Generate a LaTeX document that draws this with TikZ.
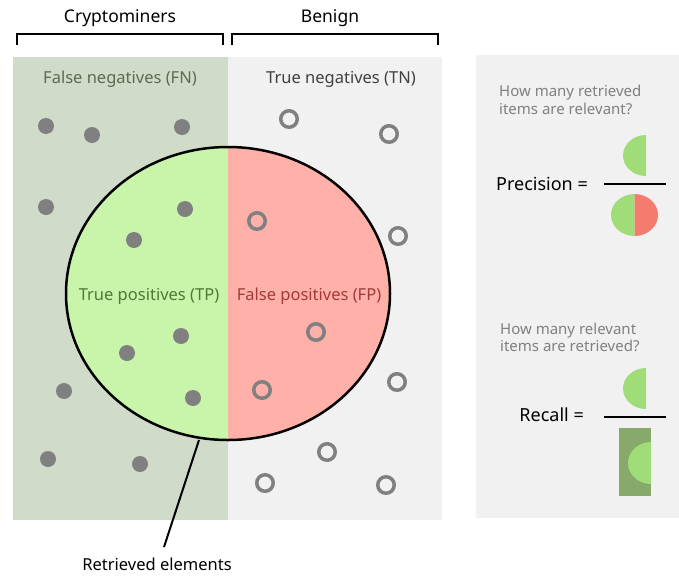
\documentclass[tikz,border=0pt]{standalone}
\usepackage{fontspec}
\setmainfont{Noto Sans}
\usepackage{xcolor}
\usetikzlibrary{positioning}

\definecolor{cryptobg}{HTML}{D1DBCA}
\definecolor{benignbg}{HTML}{F1F1F1}
\definecolor{tpfill}{HTML}{C8F5AA}
\definecolor{fpfill}{HTML}{FFB0A8}
\definecolor{dotgray}{HTML}{808080}
\definecolor{fntext}{HTML}{5B6B51}
\definecolor{tntext}{HTML}{404040}
\definecolor{tptext}{HTML}{4B7A35}
\definecolor{fptext}{HTML}{A33A3A}
\definecolor{halfgreen}{HTML}{A0DC78}
\definecolor{halfred}{HTML}{F47B6E}
\definecolor{recallbox}{HTML}{87A96B}

\begin{document}
\begin{tikzpicture}[
    x=1pt, y=-1pt,
    title/.style={font=\fontsize{17.5}{21}\selectfont, inner sep=0pt},
    region/.style={font=\fontsize{16.5}{20}\selectfont, inner sep=0pt},
    question/.style={font=\fontsize{15}{17.5}\selectfont, text=dotgray, align=left, anchor=west, inner sep=0pt},
    formula/.style={font=\fontsize{18}{21}\selectfont, anchor=east, inner sep=0pt},
    miner/.style={circle, fill=dotgray, inner sep=0pt, minimum size=16},
    benign/.style={circle, draw=dotgray, line width=3.5pt, inner sep=0pt, minimum size=16.5},
    bracket/.style={line width=2pt},
    fracline/.style={line width=1.5pt}
]

    % fixed page size
    \useasboundingbox (0,0) rectangle (679,576);

    % radii of the retrieved ellipse
    \def\rx{162}
    \def\ry{146.5}

    % 1. background panels
    \fill[cryptobg] (13,57) rectangle (228,520);
    \fill[benignbg] (228,57) rectangle (442,520);
    \fill[benignbg] (476,55) rectangle (679,518);

    % 2. column titles and brackets
    \node[title] (crypto) at (120,18) {Cryptominers};
    \node[title] (benignt) at (330,18) {Benign};
    \draw[bracket] (17,45) |- (223,34) -- (223,45);
    \draw[bracket] (232,45) |- (438,34) -- (438,45);

    \node[region, text=fntext] (fn) at (120,79) {False negatives (FN)};
    \node[region, text=tntext] (tn) at (341,79) {True negatives (TN)};

    % 3. retrieved elements (ellipse split in two halves)
    \coordinate (E) at (228,293.5);
    \begin{scope}
        \clip (E) ellipse [x radius=\rx, y radius=\ry];
        \fill[tpfill] (0,0) rectangle (228,576);
        \fill[fpfill] (228,0) rectangle (679,576);
    \end{scope}
    \draw[line width=2.5pt] (E) ellipse [x radius=\rx, y radius=\ry];

    \node[region, text=tptext] (tp) at (149,296) {True positives (TP)};
    \node[region, text=fptext] (fp) at (309,296) {False positives (FP)};

    % 4. items
    \foreach \px/\py [count=\i] in {46/126, 92/135, 182/127, 46/207, 185/209, 134/240,
        181/336, 127/353, 64/391, 193/398, 48/459, 140/464}
        \node[miner] (m\i) at (\px,\py) {};
    \foreach \px/\py [count=\i] in {289/119, 389/134, 257/221, 398/236, 316/332,
        397/382, 262/390, 327/452, 265/483, 386/485}
        \node[benign] (b\i) at (\px,\py) {};

    % 5. leader to the label
    \node[title, font=\fontsize{16.5}{20}\selectfont] (retr) at (157,564) {Retrieved elements};
    \coordinate (tip) at (199,440);
    \coordinate (tail) at (164,547);
    \draw[line width=2pt] (tip) -- (tail);

    % 6. precision
    \node[question] (qprec) at (499,100) {How many retrieved\\items are relevant?};
    \node[formula] (prec) at (588,184) {Precision =};
    \draw[fracline] (604,184) -- (666,184);
    \fill[halfgreen] (646,135) arc[start angle=270, end angle=90, x radius=23, y radius=20.5] -- cycle;
    \fill[halfgreen] (634.5,194) arc[start angle=270, end angle=90, x radius=23.5, y radius=21] -- cycle;
    \fill[halfred] (634.5,194) arc[start angle=-90, end angle=90, x radius=23.5, y radius=21] -- cycle;

    % 7. recall
    \node[question] (qrec) at (500,337.5) {How many relevant\\items are retrieved?};
    \node[formula] (rec) at (584,415) {Recall =};
    \draw[fracline] (604,417) -- (666,417);
    \fill[halfgreen] (646,368) arc[start angle=270, end angle=90, x radius=23, y radius=20.5] -- cycle;
    \fill[recallbox] (619,428) rectangle (651,496);
    \fill[halfgreen] (651,442) arc[start angle=270, end angle=90, x radius=23, y radius=21] -- cycle;

\end{tikzpicture}
\end{document}
